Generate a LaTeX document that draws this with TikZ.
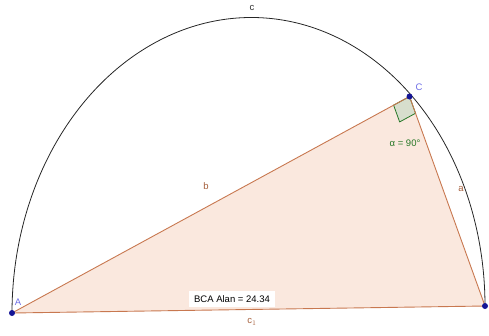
\documentclass[tikz,border=0pt]{standalone}
\usepackage{fontspec}
\setmainfont{Liberation Sans}
\usetikzlibrary{calc}
\definecolor{edgec}{RGB}{200,120,80}
\definecolor{fillc}{RGB}{250,232,222}
\definecolor{ptc}{RGB}{20,20,150}
\definecolor{lblue}{RGB}{110,110,230}
\definecolor{lbrown}{RGB}{165,95,60}
\definecolor{angc}{RGB}{40,120,40}
\definecolor{angfill}{RGB}{215,222,205}
\begin{document}
\begin{tikzpicture}[x=1pt,y=-1pt,
  pt/.style={circle,fill=ptc,inner sep=0pt,minimum size=6pt},
  lbl/.style={font=\fontsize{9.5}{11}\selectfont,inner sep=1pt},
  edge/.style={draw=edgec,line width=0.9pt}]
\useasboundingbox (0,0) rectangle (489,335);
\coordinate (A) at (12,313);
\coordinate (B) at (485,306);
\coordinate (C) at (409.5,96.5);
% semicircle (ellipse arc)
\draw[black!85,line width=0.8pt,domain=0:180,samples=120,smooth]
  plot ({248.5+236.5*cos(\x)},{309.5-3.5*cos(\x)-292*sin(\x)});
% triangle
\fill[fillc] (A) -- (B) -- (C) -- cycle;
% right angle mark
\path (C) -- (A) coordinate[pos=0.04] (ca);
\path (C) -- (B) coordinate[pos=0.08] (cb);
\draw[angc,fill=angfill,line width=0.8pt] (C) -- (ca) -- ($(ca)+(cb)-(C)$) -- (cb) -- cycle;
\draw[edge] (A) -- (B) -- (C) -- cycle;
% points
\node[pt] (nA) at (A) {};
\node[pt] (nB) at (B) {};
\node[pt] (nC) at (C) {};
% labels
\node[lbl,text=lblue] at (18,302) {A};
\node[lbl,text=lblue] at (419,87) {C};
\node[lbl,text=black!80] at (252,8) {c};
\node[lbl,text=lbrown] at (206,186) {b};
\node[lbl,text=lbrown] at (461,189) {a};
\node[lbl,text=lbrown] at (252,322) {c$_1$};
\node[lbl,text=angc] at (405,143) {α = 90°};
\node[lbl,fill=white,inner xsep=5pt,inner ysep=5pt] at (232,299) {BCA Alan = 24.34};
\end{tikzpicture}
\end{document}
